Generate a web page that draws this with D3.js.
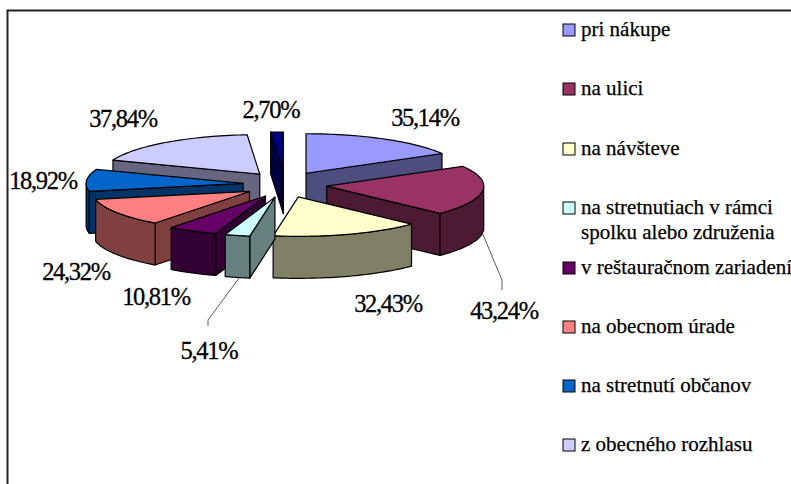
<!DOCTYPE html>
<html><head><meta charset="utf-8">
<script src="https://cdnjs.cloudflare.com/ajax/libs/d3/7.8.5/d3.min.js"></script>
<style>html,body{margin:0;background:#fff;overflow:hidden}svg{display:block}text{font-family:"Liberation Serif","Times New Roman",serif;fill:#000;stroke:#000}</style>
</head><body><svg id="c" width="791" height="484"></svg>
<script>
const categories=["pri nákupe","na ulici","na návšteve","na stretnutiach v rámci spolku alebo združenia","v reštauračnom zariadení","na obecnom úrade","na stretnutí občanov","z obecného rozhlasu","iné"];
const values=[35.14,43.24,32.43,5.41,10.81,24.32,18.92,37.84,2.70];
const valueLabels=["35,14%","43,24%","32,43%","5,41%","10,81%","24,32%","18,92%","37,84%","2,70%"];
const topColors=["#9999FF","#993366","#FFFFCC","#CCFFFF","#660066","#FF8080","#0066CC","#CCCCFF","#000080"];
const sideColors=["#4D4D80","#4D1A33","#808066","#668080","#330033","#804040","#003366","#666680","#000040"];
const legendRows=[[ "pri nákupe"],["na ulici"],["na návšteve"],["na stretnutiach v rámci","spolku alebo združenia"],["v reštauračnom zariadení"],["na obecnom úrade"],["na stretnutí občanov"],["z obecného rozhlasu"]];
const drawOrder=[8,0,7,6,1,5,4,2,3];

// layout
const cx=285,cy=184.5,rx=157,ry=39.5,ex=42,ey=13,depth=42;
const labelPos=[[425,126],[504,319],[388,312],[209,359],[156,305],[76,280],[43,189],[123,127],[271,118]];
const legendY=[36,95,155,214,274,333,392,451];

const svg=d3.select("#c");
const pie=d3.pie().sort(null).value(d=>d).startAngle(0).endAngle(2*Math.PI);
const arcs=pie(values);
const line=d3.line();
const px=d3.scaleLinear().domain([-1,1]).range([-rx,rx]);
const py=d3.scaleLinear().domain([-1,1]).range([-ry,ry]);
const steps=a=>d3.range(0,41).map(i=>a.s+(a.e-a.s)*i/40);

// frame
svg.append("path").attr("d","M7.5,484V10.5H791").attr("fill","none").attr("stroke","#222").attr("stroke-width",2);

const data=arcs.map((a,i)=>{
  const mid=(a.startAngle+a.endAngle)/2;
  return {i,s:a.startAngle,e:a.endAngle,ax:cx+ex*Math.sin(mid),ay:cy-ey*Math.cos(mid)};
});
const rim=(d,t,dz=0)=>[d.ax+px(Math.sin(t)),d.ay+py(-Math.cos(t))+dz];

function face(g,pts,fill){
  g.append("path").attr("d",line(pts)+"Z").attr("fill",fill).attr("stroke","#000").attr("stroke-width",1.2).attr("stroke-linejoin","round");
}
drawOrder.forEach(k=>{
  const d=data[k],g=svg.append("g");
  const apex=[d.ax,d.ay],apexB=[d.ax,d.ay+depth];
  const side=sideColors[k];
  // radial cut faces
  if(Math.sin(d.s)<0) face(g,[apex,rim(d,d.s),rim(d,d.s,depth),apexB],side);
  if(Math.sin(d.e)>0) face(g,[apex,rim(d,d.e),rim(d,d.e,depth),apexB],side);
  // curved outer wall: only the part that faces the viewer
  const a0=Math.max(d.s,Math.PI/2),a1=Math.min(d.e,3*Math.PI/2);
  if(a1>a0){
    const ts=steps({s:a0,e:a1});
    face(g,ts.map(t=>rim(d,t)).concat(ts.slice().reverse().map(t=>rim(d,t,depth))),side);
  }
  // top
  face(g,[apex].concat(steps(d).map(t=>rim(d,t))),topColors[k]);
});

// leader lines
const leaders=[[1,1.70,[[502,280],[502,290]]],[3,3.37,[[208,320],[208,326]]]];
leaders.forEach(([k,t,rest])=>{
  const p=rim(data[k],t,depth);
  svg.append("path").attr("d",line([p].concat(rest))).attr("fill","none").attr("stroke","#333").attr("stroke-width",.8);
});

// value labels
svg.selectAll("text.v").data(valueLabels).join("text").attr("class","v")
  .attr("x",(d,i)=>labelPos[i][0]).attr("y",(d,i)=>labelPos[i][1])
  .attr("text-anchor","middle").attr("font-size",24.5).attr("letter-spacing",-1.3).attr("stroke-width",.3).text(d=>d);

// legend
legendRows.forEach((rows,i)=>{
  const y=legendY[i];
  svg.append("rect").attr("x",563).attr("y",y-12).attr("width",12).attr("height",12)
    .attr("fill",topColors[i]).attr("stroke","#000").attr("stroke-width",1);
  rows.forEach((r,j)=>svg.append("text").attr("x",581).attr("y",y+j*25).attr("font-size",21).attr("stroke-width",.25).text(r));
});
</script></body></html>
